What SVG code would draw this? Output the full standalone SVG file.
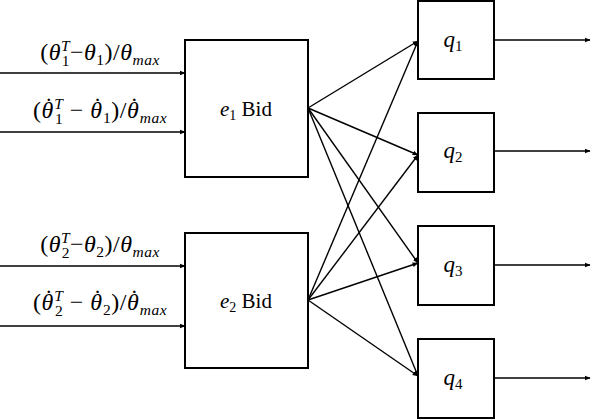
<svg xmlns="http://www.w3.org/2000/svg" width="592" height="420" viewBox="0 0 592 420">
<style>
.box{fill:#fff;stroke:#000;stroke-width:2}
.ln{stroke:#000;stroke-width:1.4;fill:none;marker-end:url(#ah)}
.m{font-family:"Liberation Serif","DejaVu Serif",serif;font-size:24px;letter-spacing:0.5px;fill:#000}
.q{font-family:"Liberation Serif","DejaVu Serif",serif;font-size:23px;fill:#000}
.i{font-style:italic}
.sb{font-size:15.5px}
.bl{font-family:"Liberation Serif","DejaVu Serif",serif;font-size:21px;fill:#000}
</style>
<defs>
<marker id="ah" viewBox="0 0 10 10" refX="9" refY="5" markerWidth="6" markerHeight="6" markerUnits="userSpaceOnUse" orient="auto">
<path d="M0,1 L10,5 L0,9 z" fill="#000"/>
</marker>
</defs>
<g id="connectors">
<line class="ln" x1="0" y1="73" x2="185" y2="73"/>
<line class="ln" x1="0" y1="132" x2="185" y2="132"/>
<line class="ln" x1="0" y1="266" x2="185" y2="266"/>
<line class="ln" x1="0" y1="326" x2="185" y2="326"/>
<line class="ln" x1="308" y1="108" x2="418" y2="41"/>
<line class="ln" x1="308" y1="108" x2="418" y2="155"/>
<line class="ln" x1="308" y1="108" x2="418" y2="263"/>
<line class="ln" x1="308" y1="108" x2="418" y2="376"/>
<line class="ln" x1="308" y1="300" x2="418" y2="41"/>
<line class="ln" x1="308" y1="300" x2="418" y2="155"/>
<line class="ln" x1="308" y1="300" x2="418" y2="263"/>
<line class="ln" x1="308" y1="300" x2="418" y2="376"/>
<line class="ln" x1="494" y1="40" x2="590" y2="40"/>
<line class="ln" x1="494" y1="151" x2="590" y2="151"/>
<line class="ln" x1="494" y1="265" x2="590" y2="265"/>
<line class="ln" x1="494" y1="378" x2="590" y2="378"/>
</g>
<g id="labels">
<text class="m" x="100" y="60" text-anchor="middle">(<tspan class="i">θ</tspan><tspan class="sb i" dy="-9">T</tspan><tspan class="sb" dx="-8.5" dy="15">1</tspan><tspan dy="-6">−</tspan><tspan class="i">θ</tspan><tspan class="sb" dy="5">1</tspan><tspan dy="-5">)/</tspan><tspan class="i">θ</tspan><tspan class="i sb" dy="5">max</tspan></text>
<text class="m" x="100" y="118" text-anchor="middle">(<tspan class="i">θ</tspan><tspan dx="-9" dy="-4">˙</tspan><tspan class="sb i" dx="1" dy="-5">T</tspan><tspan class="sb" dx="-8.5" dy="15">1</tspan><tspan dy="-6"> − </tspan><tspan class="i">θ</tspan><tspan dx="-9" dy="-4">˙</tspan><tspan class="sb" dx="1" dy="9">1</tspan><tspan dy="-5">)/</tspan><tspan class="i">θ</tspan><tspan dx="-9" dy="-4">˙</tspan><tspan class="i sb" dx="1" dy="9">max</tspan></text>
<text class="m" x="100" y="252" text-anchor="middle">(<tspan class="i">θ</tspan><tspan class="sb i" dy="-9">T</tspan><tspan class="sb" dx="-8.5" dy="15">2</tspan><tspan dy="-6">−</tspan><tspan class="i">θ</tspan><tspan class="sb" dy="5">2</tspan><tspan dy="-5">)/</tspan><tspan class="i">θ</tspan><tspan class="i sb" dy="5">max</tspan></text>
<text class="m" x="100" y="310" text-anchor="middle">(<tspan class="i">θ</tspan><tspan dx="-9" dy="-4">˙</tspan><tspan class="sb i" dx="1" dy="-5">T</tspan><tspan class="sb" dx="-8.5" dy="15">2</tspan><tspan dy="-6"> − </tspan><tspan class="i">θ</tspan><tspan dx="-9" dy="-4">˙</tspan><tspan class="sb" dx="1" dy="9">2</tspan><tspan dy="-5">)/</tspan><tspan class="i">θ</tspan><tspan dx="-9" dy="-4">˙</tspan><tspan class="i sb" dx="1" dy="9">max</tspan></text>
</g>
<g id="e1">
<rect class="box" x="185" y="40" width="123" height="137"/>
<text class="bl" x="246" y="116" text-anchor="middle"><tspan class="i">e</tspan><tspan font-size="14" dy="4">1</tspan><tspan dy="-4"> Bid</tspan></text>
</g>
<g id="e2">
<rect class="box" x="185" y="233" width="123" height="135"/>
<text class="bl" x="246" y="308" text-anchor="middle"><tspan class="i">e</tspan><tspan font-size="14" dy="4">2</tspan><tspan dy="-4"> Bid</tspan></text>
</g>
<g id="q1">
<rect class="box" x="418" y="1" width="76" height="78"/>
<text class="q" x="453" y="47" text-anchor="middle"><tspan class="i">q</tspan><tspan font-size="15" dy="4">1</tspan></text>
</g>
<g id="q2">
<rect class="box" x="418" y="113" width="76" height="79"/>
<text class="q" x="453" y="158" text-anchor="middle"><tspan class="i">q</tspan><tspan font-size="15" dy="4">2</tspan></text>
</g>
<g id="q3">
<rect class="box" x="418" y="226" width="76" height="79"/>
<text class="q" x="453" y="272" text-anchor="middle"><tspan class="i">q</tspan><tspan font-size="15" dy="4">3</tspan></text>
</g>
<g id="q4">
<rect class="box" x="418" y="339" width="76" height="79"/>
<text class="q" x="453" y="385" text-anchor="middle"><tspan class="i">q</tspan><tspan font-size="15" dy="4">4</tspan></text>
</g>
</svg>
